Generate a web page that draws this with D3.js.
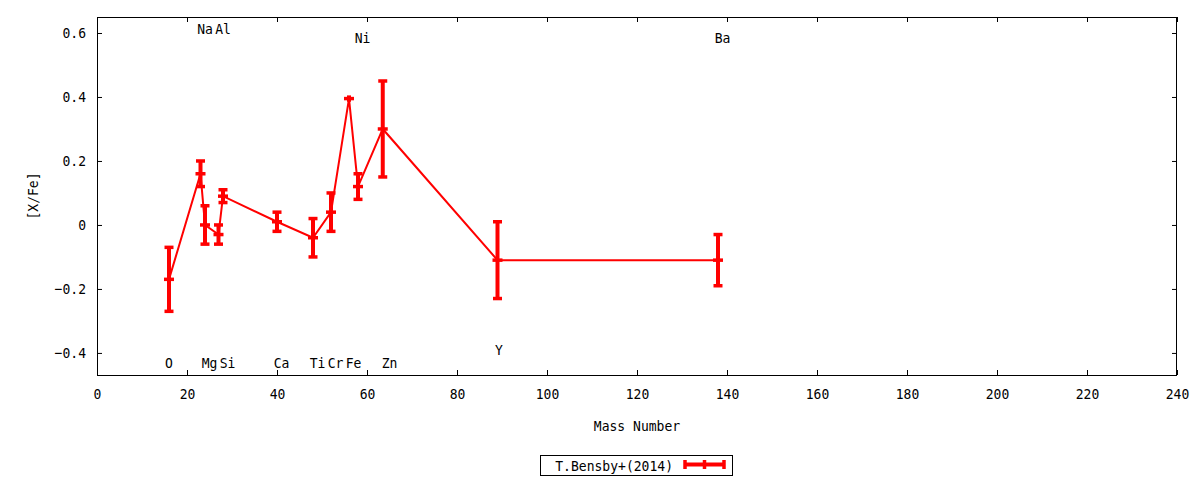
<!DOCTYPE html>
<html lang="en">
<head>
<meta charset="UTF-8">
<title>[X/Fe] vs Mass Number</title>
<script src="https://d3js.org/d3.v7.min.js"></script>
<style>
  * { margin: 0; padding: 0; }
  body { background: #fff; }
  svg text { font-family: "DejaVu Sans Mono", monospace; font-size: 14.6px; fill: #000; }
</style>
</head>
<body>
<svg id="chart" width="1200" height="480"></svg>
<script>
// Data (T.Bensby+ 2014)
const massNumbers = [16, 23, 24, 27, 28, 40, 48, 52, 56, 58, 63.5, 89, 138];
const xfeValues   = [-0.17, 0.16, 0.00, -0.03, 0.09, 0.01, -0.04, 0.04, 0.395, 0.12, 0.30, -0.11, -0.11];
const xfeErrors   = [0.10, 0.04, 0.06, 0.03, 0.02, 0.03, 0.06, 0.06, 0.01, 0.04, 0.15, 0.12, 0.08];

// Element labels placed in data coordinates
const labelNames = ['O', 'Na', 'Mg', 'Al', 'Si', 'Ca', 'Ti', 'Cr', 'Fe', 'Ni', 'Zn', 'Y', 'Ba'];
const labelX     = [16, 24, 25, 28, 29, 41, 49, 53, 57, 59, 65, 89.3, 139];
const labelY     = [-0.43, 0.615, -0.43, 0.615, -0.43, -0.43, -0.43, -0.43, -0.43, 0.585, -0.43, -0.388, 0.585];

const xTicks = [0, 20, 40, 60, 80, 100, 120, 140, 160, 180, 200, 220, 240];
const yTicks = [-0.4, -0.2, 0, 0.2, 0.4, 0.6];
const legendLabel = 'T.Bensby+(2014)';

const plotL = 97, plotR = 1177, plotT = 17, plotB = 375;
const red = '#ff0000';
const charW = 7.85;   // narrow glyph advance used by the reference font

const svg = d3.select('#chart');

const x = d3.scaleLinear().domain([0, 240]).range([plotL, plotR]);
const y = d3.scaleLinear().domain([-0.469, 0.65]).range([plotB, plotT]);

const points = massNumbers.map((m, i) => ({ m, v: xfeValues[i], e: xfeErrors[i] }));

// Axes (ticks point inward, mirrored on top/right)
const fmtY = d => d === 0 ? '0' : d3.format('.1f')(d);

svg.append('g')
    .attr('transform', `translate(0,${plotB})`)
    .call(d3.axisBottom(x).tickValues(xTicks).tickSize(-5).tickPadding(14).tickFormat(d3.format('d')))
    .call(g => g.select('.domain').remove());

svg.append('g')
    .attr('transform', `translate(0,${plotT})`)
    .call(d3.axisTop(x).tickValues(xTicks).tickSize(-5).tickFormat(''))
    .call(g => g.select('.domain').remove());

svg.append('g')
    .attr('transform', `translate(${plotL},0)`)
    .call(d3.axisLeft(y).tickValues(yTicks).tickSize(-5).tickPadding(11).tickFormat(fmtY))
    .call(g => g.select('.domain').remove());

svg.append('g')
    .attr('transform', `translate(${plotR},0)`)
    .call(d3.axisRight(y).tickValues(yTicks).tickSize(-5).tickFormat(''))
    .call(g => g.select('.domain').remove());

svg.selectAll('.tick line').attr('stroke', '#000');

// Frame
svg.append('rect')
    .attr('x', plotL + 0.5).attr('y', plotT + 0.5)
    .attr('width', plotR - plotL - 1).attr('height', plotB - plotT)
    .attr('fill', 'none').attr('stroke', '#000').attr('stroke-width', 1);

// Axis titles
svg.append('text')
    .attr('x', (plotL + plotR) / 2).attr('y', 425)
    .attr('text-anchor', 'middle').attr('dominant-baseline', 'central')
    .text('Mass Number');

svg.append('text')
    .attr('transform', `translate(32,${(plotT + plotB) / 2}) rotate(-90)`)
    .attr('text-anchor', 'middle').attr('dominant-baseline', 'central')
    .text('[X/Fe]');

// Element labels
svg.append('g').selectAll('text')
    .data(labelNames)
    .enter().append('text')
    .attr('x', (d, i) => x(labelX[i]))
    .attr('y', (d, i) => y(labelY[i]))
    .attr('text-anchor', 'middle').attr('dominant-baseline', 'central')
    .text(d => d);

// Connecting line
const line = d3.line().x(d => x(d.m)).y(d => y(d.v));
svg.append('path')
    .datum(points)
    .attr('d', line)
    .attr('fill', 'none').attr('stroke', red).attr('stroke-width', 2);

// Error bars
const capW = 9, plusW = 10;
const bars = svg.append('g').selectAll('g')
    .data(points)
    .enter().append('g')
    .attr('stroke', red);

bars.append('line')
    .attr('x1', d => x(d.m)).attr('x2', d => x(d.m))
    .attr('y1', d => y(d.v + d.e)).attr('y2', d => y(d.v - d.e))
    .attr('stroke-width', 4);

// caps only when the bar is long enough to show them
bars.filter(d => d.e > 0.015).append('line')
    .attr('x1', d => x(d.m) - capW / 2).attr('x2', d => x(d.m) + capW / 2)
    .attr('y1', d => y(d.v + d.e)).attr('y2', d => y(d.v + d.e))
    .attr('stroke-width', 3.5);

bars.filter(d => d.e > 0.015).append('line')
    .attr('x1', d => x(d.m) - capW / 2).attr('x2', d => x(d.m) + capW / 2)
    .attr('y1', d => y(d.v - d.e)).attr('y2', d => y(d.v - d.e))
    .attr('stroke-width', 3.5);

bars.append('line')
    .attr('x1', d => x(d.m) - plusW / 2).attr('x2', d => x(d.m) + plusW / 2)
    .attr('y1', d => y(d.v)).attr('y2', d => y(d.v))
    .attr('stroke-width', 3.5);

// Legend
const lg = svg.append('g');
lg.append('rect')
    .attr('x', 540.5).attr('y', 455.5).attr('width', 192).attr('height', 20)
    .attr('fill', '#fff').attr('stroke', '#000').attr('stroke-width', 1);
lg.append('text')
    .attr('x', 673).attr('y', 465)
    .attr('text-anchor', 'end').attr('dominant-baseline', 'central')
    .text(legendLabel);
lg.append('line')
    .attr('x1', 684).attr('x2', 725).attr('y1', 464.5).attr('y2', 464.5)
    .attr('stroke', red).attr('stroke-width', 4);
[685, 704.5, 724].forEach(px => {
    lg.append('line')
        .attr('x1', px).attr('x2', px).attr('y1', 460).attr('y2', 469)
        .attr('stroke', red).attr('stroke-width', 3.5);
});

// Narrow the glyphs to the reference's advance width
svg.selectAll('text')
    .style('font-family', '"DejaVu Sans Mono", monospace')
    .style('font-size', '14.6px')
    .each(function() {
        const n = this.textContent.length;
        if (n) d3.select(this).attr('textLength', n * charW).attr('lengthAdjust', 'spacingAndGlyphs');
    });
</script>
</body>
</html>
